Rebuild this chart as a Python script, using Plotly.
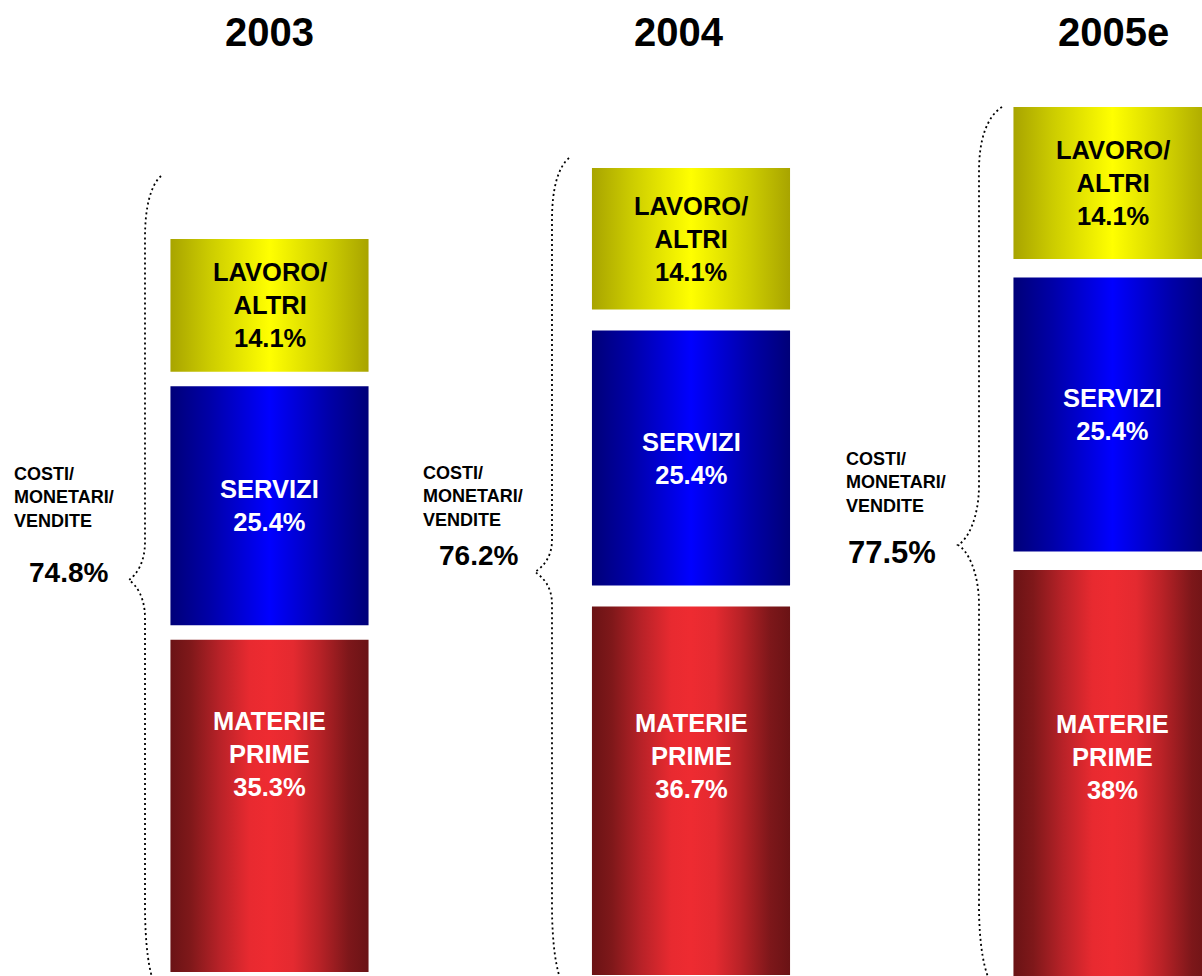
import plotly.graph_objects as go

# ---------------- data ----------------
YEARS = ["2003", "2004", "2005e"]
MATERIE_PRIME = [35.3, 36.7, 38.0]
SERVIZI = [25.4, 25.4, 25.4]
LAVORO_ALTRI = [14.1, 14.1, 14.1]
SEGMENT_LABELS = ["MATERIE<br>PRIME", "SERVIZI", "LAVORO/<br>ALTRI"]
SIDE_LABEL = "COSTI/<br>MONETARI/<br>VENDITE"

# ---------------- layout / style constants ----------------
W, H = 1202, 976
FONT = "Liberation Sans, Arial, sans-serif"
BAR_CENTER0_PX, BAR_STEP_PX = 269.5, 421.5     # pixel position of category 0 and spacing
BAR_WIDTH = 0.47                                 # in category units
TOP_PX = [239, 168, 107]                         # drawing frame of each (not to scale) column
BOTTOM_PX = [972, 975, 980]
GAP_PX = [14.5, 21.0, 18.5]
LABEL_FRAC = [[0.655, 0.5, 0.5], [0.595, 0.5, 0.5], [0.545, 0.5, 0.5]]  # label height inside segment
TITLE_XSHIFT = [0, -12, 1]
SIDE_LEFT_PX = [12, 421, 844]
SIDE_CY_PX = [497, 496, 483]
TOTAL_CX_PX = [68.5, 478, 892]
TOTAL_CY_PX = [572, 555, 552]
TOTAL_SIZE = [28, 28, 31]
BRACES = [  # top end, vertical x, tip, bottom end (pixels)
    dict(tx=161, ty=176, xv=145, tipx=129, tipy=580, bx=155, by=985, rt=62, rtip=38, rb=80),
    dict(tx=569, ty=158, xv=552, tipx=535, tipy=572, bx=563, by=985, rt=62, rtip=32, rb=80),
    dict(tx=1002, ty=107, xv=979, tipx=958, tipy=545, bx=992, by=985, rt=64, rtip=60, rb=80),
]
COLORSCALES = [
    [[0, "#6a1315"], [0.1, "#7f181a"], [0.25, "#b82228"], [0.4, "#e82a30"], [0.5, "#ee2b31"],
     [0.62, "#e42a30"], [0.75, "#b92227"], [0.9, "#7d171a"], [1, "#6a1315"]],
    [[0, "#000078"], [0.2, "#0000a8"], [0.5, "#0000ff"], [0.8, "#0000a8"], [1, "#000078"]],
    [[0, "#a8a400"], [0.2, "#cccc00"], [0.5, "#ffff00"], [0.8, "#cccc00"], [1, "#a8a400"]],
]
TEXT_COLORS = ["white", "white", "black"]


def pct(v):
    return f"{round(v, 1):g}%"


def paper(px, py):
    return px / W, 1 - py / H


fig = go.Figure()
annotations = []
layout_axes = {}

series = [MATERIE_PRIME, SERVIZI, LAVORO_ALTRI]
for i, year in enumerate(YEARS):
    vals = [s[i] for s in series]
    total = sum(vals)
    scale = (BOTTOM_PX[i] - TOP_PX[i] - 2 * GAP_PX[i]) / total   # px per %
    gap = GAP_PX[i] / scale
    yname = "y" if i == 0 else f"y{i + 1}"
    axkey = "yaxis" if i == 0 else f"yaxis{i + 1}"
    ax = dict(range=[-(H - BOTTOM_PX[i]) / scale, BOTTOM_PX[i] / scale], visible=False,
              fixedrange=True)
    if i > 0:
        ax["overlaying"] = "y"
    layout_axes[axkey] = ax

    base = 0.0
    x0, x1 = i - BAR_WIDTH / 2, i + BAR_WIDTH / 2
    for k, v in enumerate(vals):
        y0, y1 = base, base + v
        fig.add_trace(go.Scatter(
            x=[x0, x1, x1, x0, x0], y=[y0, y0, y1, y1, y0],
            mode="lines", line=dict(width=0), fill="toself",
            fillgradient=dict(type="horizontal", start=x0, stop=x1, colorscale=COLORSCALES[k]),
            yaxis=yname, showlegend=False, hoverinfo="skip"))
        annotations.append(dict(
            x=i, y=y0 + v * LABEL_FRAC[i][k], xref="x", yref=yname, showarrow=False,
            text=f"<b>{SEGMENT_LABELS[k]}<br>{pct(v)}</b>",
            font=dict(family=FONT, size=25.5, color=TEXT_COLORS[k]),
            xanchor="center", yanchor="middle"))
        base = y1 + gap

    # year title
    annotations.append(dict(
        x=i, y=1 - 32 / H, xref="x", yref="paper", showarrow=False, xshift=TITLE_XSHIFT[i],
        text=f"<b>{year}</b>", font=dict(family=FONT, size=40, color="black"),
        xanchor="center", yanchor="middle"))
    # side label
    sx, sy = paper(SIDE_LEFT_PX[i], SIDE_CY_PX[i])
    annotations.append(dict(
        x=sx, y=sy, xref="paper", yref="paper", showarrow=False, align="left",
        text=f"<b>{SIDE_LABEL}</b>", font=dict(family=FONT, size=18, color="black"),
        xanchor="left", yanchor="middle"))
    tx, ty = paper(TOTAL_CX_PX[i], TOTAL_CY_PX[i])
    annotations.append(dict(
        x=tx, y=ty, xref="paper", yref="paper", showarrow=False,
        text=f"<b>{pct(total)}</b>", font=dict(family=FONT, size=TOTAL_SIZE[i], color="black"),
        xanchor="center", yanchor="middle"))

# braces (dotted)
shapes = []
for b in BRACES:
    def P(px, py):
        x, y = paper(px, py)
        return f"{x:.5f},{y:.5f}"
    xv, tipx, tipy = b["xv"], b["tipx"], b["tipy"]
    ytop = b["ty"] + b["rt"]
    ybot = b["by"] - b["rb"]
    path = (
        f"M {P(b['tx'], b['ty'])} "
        f"C {P(xv + (b['tx'] - xv) * 0.35, b['ty'] + b['rt'] * 0.15)} {P(xv, b['ty'] + b['rt'] * 0.5)} {P(xv, ytop)} "
        f"L {P(xv, tipy - b['rtip'])} "
        f"C {P(xv, tipy - b['rtip'] * 0.45)} {P(tipx + (xv - tipx) * 0.45, tipy - 5)} {P(tipx, tipy)} "
        f"C {P(tipx + (xv - tipx) * 0.45, tipy + 5)} {P(xv, tipy + b['rtip'] * 0.45)} {P(xv, tipy + b['rtip'])} "
        f"L {P(xv, ybot)} "
        f"C {P(xv, ybot + b['rb'] * 0.5)} {P(xv + (b['bx'] - xv) * 0.4, b['by'] - b['rb'] * 0.15)} {P(b['bx'], b['by'])}"
    )
    shapes.append(dict(type="path", xref="paper", yref="paper", path=path,
                       line=dict(color="black", width=1.8, dash="2px,3px")))

fig.update_layout(
    width=W, height=H, margin=dict(l=0, r=0, t=0, b=0),
    paper_bgcolor="white", plot_bgcolor="white",
    xaxis=dict(range=[-BAR_CENTER0_PX / BAR_STEP_PX, (W - BAR_CENTER0_PX) / BAR_STEP_PX],
               visible=False, fixedrange=True),
    annotations=annotations, shapes=shapes, showlegend=False,
    **layout_axes,
)

fig.write_html("out.html")
